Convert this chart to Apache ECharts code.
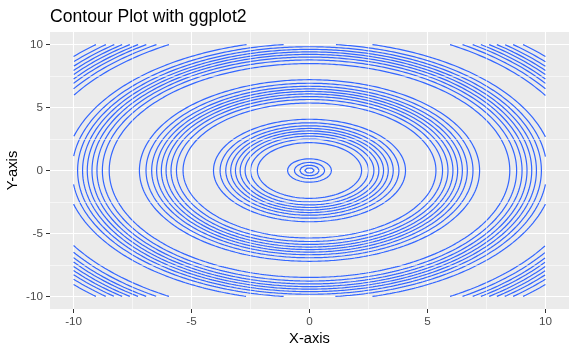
<!DOCTYPE html>
<html>
<head>
<meta charset="utf-8">
<script src="https://cdn.jsdelivr.net/npm/echarts@6/dist/echarts.min.js"></script>
<style>html,body{margin:0;padding:0;background:#fff}#c{width:577px;height:354px}</style>
</head>
<body>
<div id="c"></div>
<script>
// Data
const titleText = 'Contour Plot with ggplot2';
const xTicks = [-10, -5, 0, 5, 10];
const yTicks = [-10, -5, 0, 5, 10];
const minorBreaks = [-7.5, -2.5, 2.5, 7.5];
const axisRange = [-11, 11];
const dataLimit = 10; // contour data covers [-10, 10] in x and y
// radii of the circular contour lines
const ringsCentre = [0.20, 0.41, 0.64, 0.93];
const ringsGroup1 = [2.21, 2.50, 2.73, 2.94, 3.14, 3.34, 3.55, 3.79, 4.07];
const ringsGroup2 = [5.36, 5.64, 5.87, 6.08, 6.28, 6.48, 6.69, 6.93, 7.21];
const ringsGroup3 = [8.49, 8.78, 9.01, 9.22, 9.42, 9.62, 9.83, 10.06, 10.35];
const ringsGroup4 = [11.64, 11.92, 12.16, 12.36, 12.57, 12.77, 12.98, 13.21, 13.49];

const FONT = '"Liberation Sans", Arial, sans-serif';
const LINE = '#3366FF';

function inside(a, r) {
  const x = r * Math.cos(a), y = r * Math.sin(a);
  return Math.abs(x) <= dataLimit && Math.abs(y) <= dataLimit;
}
function pt(a, r) { return [r * Math.cos(a), r * Math.sin(a)]; }
function edge(aIn, aOut, r) {
  for (let k = 0; k < 30; k++) {
    const m = (aIn + aOut) / 2;
    if (inside(m, r)) aIn = m; else aOut = m;
  }
  return pt(aIn, r);
}
// split each circle into the arcs lying inside the data square
function arcs(r) {
  const n = Math.max(32, Math.ceil(2 * Math.PI * r / 0.1));
  const step = 2 * Math.PI / n;
  if (r <= dataLimit) {
    const p = [];
    for (let i = 0; i <= n; i++) p.push(pt(i * step, r));
    return [p];
  }
  const segs = [];
  let cur = null;
  let prevA = 0, prevIn = inside(0, r);
  for (let i = 1; i <= n; i++) {
    const a = i * step, inn = inside(a, r);
    if (inn && !prevIn) { cur = [edge(a, prevA, r)]; }
    if (inn) cur.push(pt(a, r));
    if (!inn && prevIn) { cur.push(edge(prevA, a, r)); segs.push(cur); cur = null; }
    prevA = a; prevIn = inn;
  }
  if (cur) segs.push(cur);
  return segs;
}

const allRings = [].concat(ringsCentre, ringsGroup1, ringsGroup2, ringsGroup3, ringsGroup4);
const series = [{
  type: 'line', data: [[0, 0]], showSymbol: false, silent: true, z: 1,
  lineStyle: { opacity: 0 },
  markLine: {
    silent: true, symbol: ['none', 'none'], label: { show: false }, animation: false,
    lineStyle: { color: '#ffffff', width: 0.55, type: 'solid' },
    emphasis: { disabled: true },
    data: minorBreaks.map(v => ({ xAxis: v })).concat(minorBreaks.map(v => ({ yAxis: v })))
  }
}];
allRings.forEach(r => {
  arcs(r).forEach(seg => {
    series.push({
      type: 'line', data: seg, showSymbol: false, symbol: 'none', silent: true, z: 3,
      lineStyle: { color: LINE, width: 1.2 }, animation: false, clip: true
    });
  });
});

const axisCommon = (ticks) => ({
  type: 'value', min: axisRange[0], max: axisRange[1],
  axisLine: { show: false, onZero: false },
  axisTick: { show: true, length: 4, lineStyle: { color: '#333333', width: 1 }, customValues: ticks },
  axisLabel: { customValues: ticks, color: '#4D4D4D', fontSize: 11.7, fontFamily: FONT },
  splitLine: { show: true, lineStyle: { color: '#ffffff', width: 1.1 } },
  nameLocation: 'middle',
  nameMoveOverlap: false,
  nameTextStyle: { color: '#000', fontSize: 14.7, fontFamily: FONT }
});

const xAxis = Object.assign(axisCommon(xTicks), { name: 'X-axis', nameGap: 22 });
xAxis.axisLabel.margin = 7;
const yAxis = Object.assign(axisCommon(yTicks), { name: 'Y-axis', nameGap: 30, nameRotate: 90 });
yAxis.axisLabel.margin = 7;

const chart = echarts.init(document.getElementById('c'), null, { renderer: 'canvas' });
chart.setOption({
  animation: false,
  backgroundColor: '#ffffff',
  title: { text: titleText, left: 50, top: 8, padding: 0, textStyle: { color: '#000', fontSize: 17.6, fontWeight: 'normal', fontFamily: FONT } },
  grid: { left: 50, right: 8, top: 32, bottom: 45, show: true, backgroundColor: '#EBEBEB', borderWidth: 0, containLabel: false, outerBoundsMode: 'none' },
  xAxis: xAxis,
  yAxis: yAxis,
  series: series
});
</script>
</body>
</html>
